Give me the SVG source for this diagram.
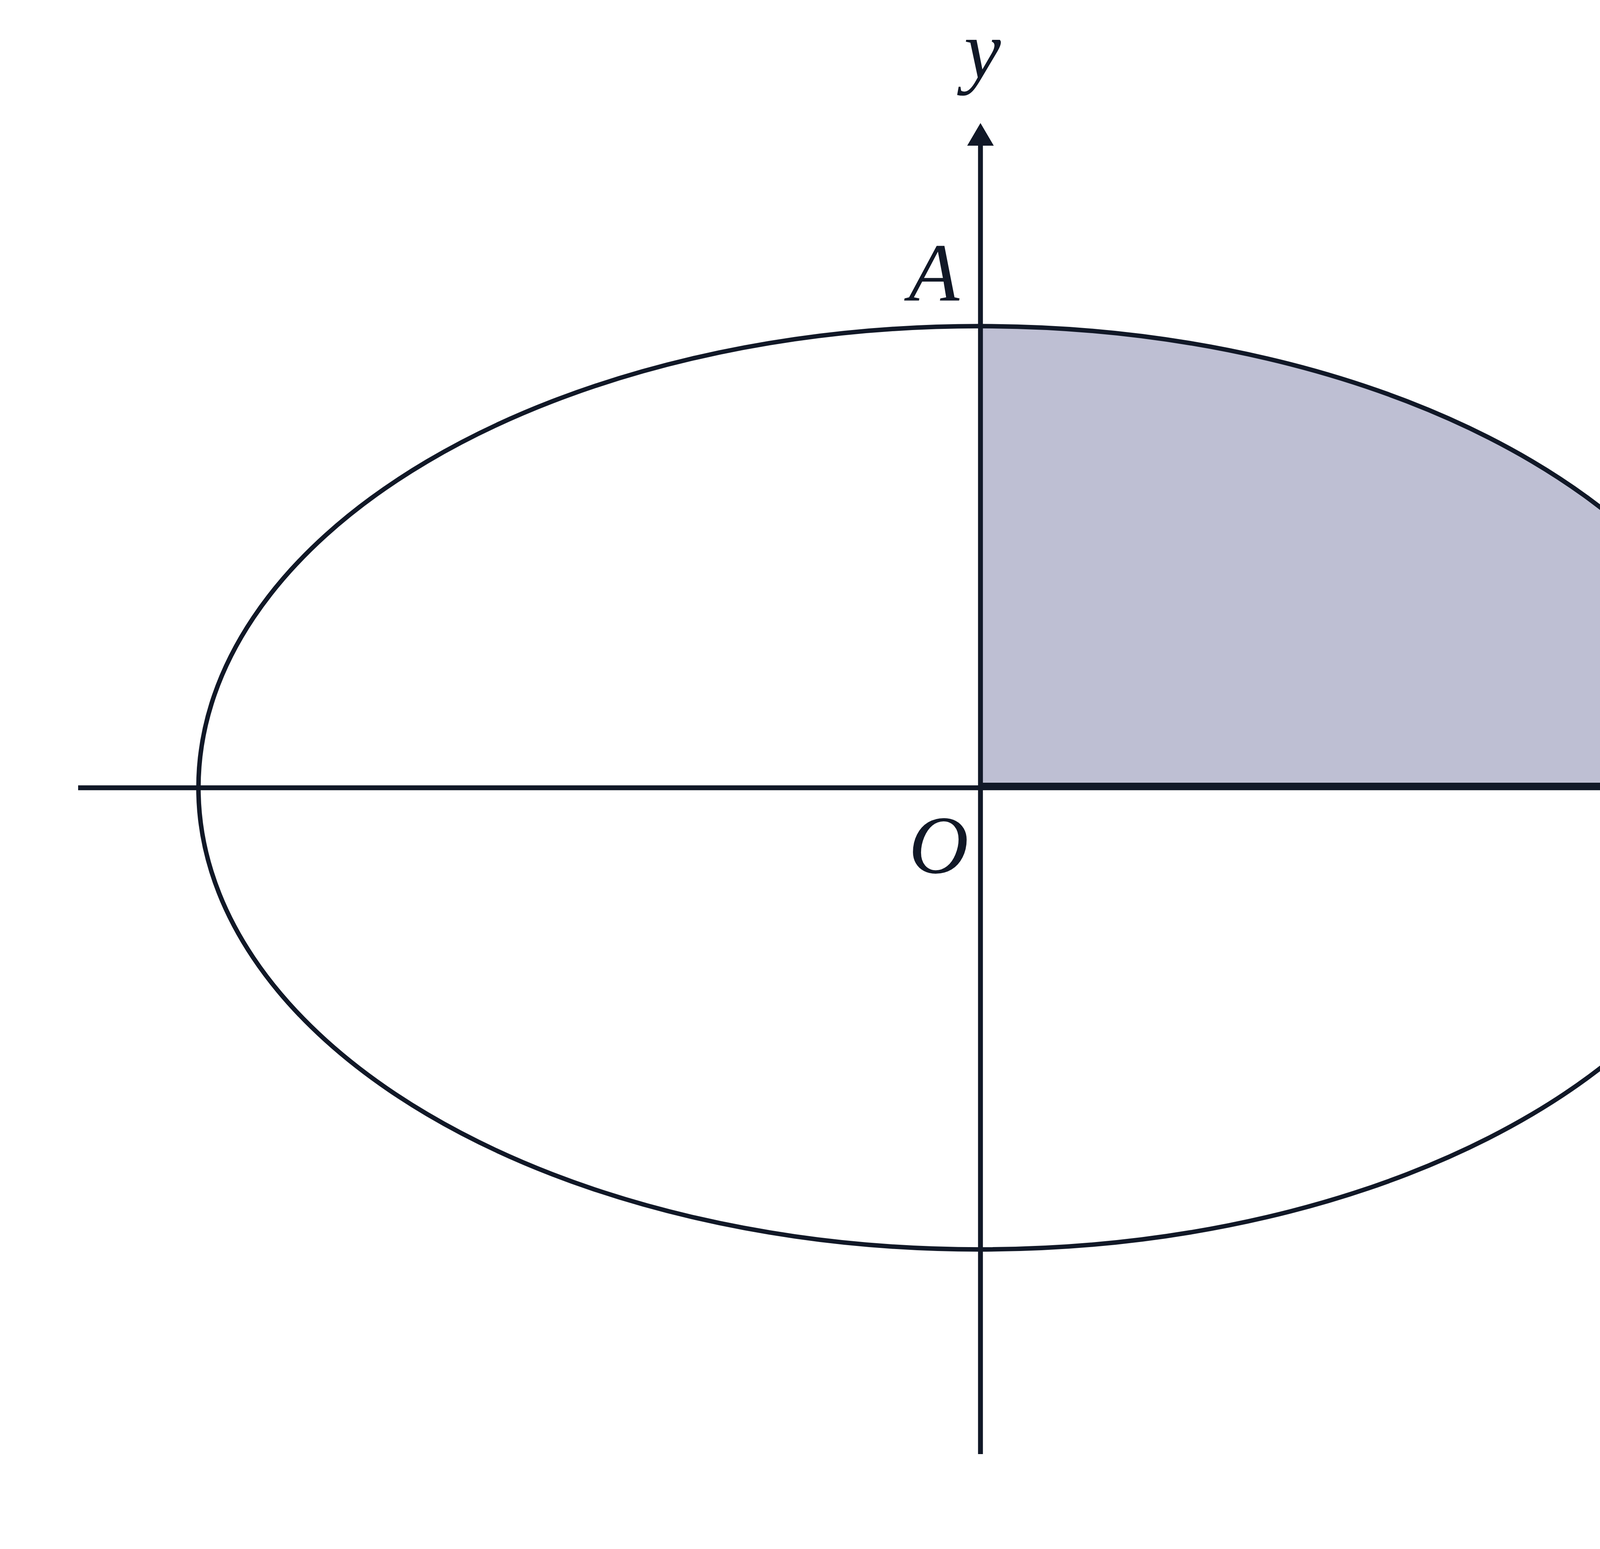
<svg xmlns="http://www.w3.org/2000/svg" width="5200" height="3966" viewBox="0 0 5200 3966">
  <style>
    .ink { stroke: #111827; fill: none; }
    .axis { stroke-width: 12.5; }
    .curve { stroke-width: 11.5; }
    .lbl { font-family: "Liberation Serif", "DejaVu Serif", serif; font-style: italic; font-size: 212px; fill: #111827; text-anchor: middle; }
  </style>
  <defs>
    <marker id="arrow" markerUnits="userSpaceOnUse" viewBox="0 0 58 68" refX="0" refY="34" markerWidth="58" markerHeight="68" orient="auto">
      <path d="M0,0 L58,34 L0,68 Z" fill="#111827"/>
    </marker>
  </defs>
  <rect width="5200" height="3966" fill="#ffffff"/>
  <g id="region">
    <path d="M2510,2017 V835 A2000,1182 0 0 1 4508,2017 Z" fill="#bebfd3"/>
  </g>
  <g id="ellipse">
    <ellipse class="ink curve" cx="2508" cy="2017" rx="2000" ry="1182"/>
  </g>
  <g id="connectors">
    <line class="ink axis" x1="200" y1="2017" x2="4762" y2="2017" marker-end="url(#arrow)"/>
    <line class="ink axis" x1="2510" y1="3723" x2="2510" y2="373" marker-end="url(#arrow)"/>
    <line class="ink" stroke-width="19" x1="2510" y1="2013.5" x2="4506" y2="2013.5"/>
  </g>
  <g id="labels">
    <text id="label-y" class="lbl" x="2515" y="199">y</text>
    <text id="label-A" class="lbl" x="2391" y="769">A</text>
    <text id="label-O" class="lbl" x="2403" y="2235">O</text>
    <text id="label-B" class="lbl" x="4593" y="1983">B</text>
    <text id="label-x" class="lbl" x="4941" y="2069">x</text>
  </g>
</svg>
